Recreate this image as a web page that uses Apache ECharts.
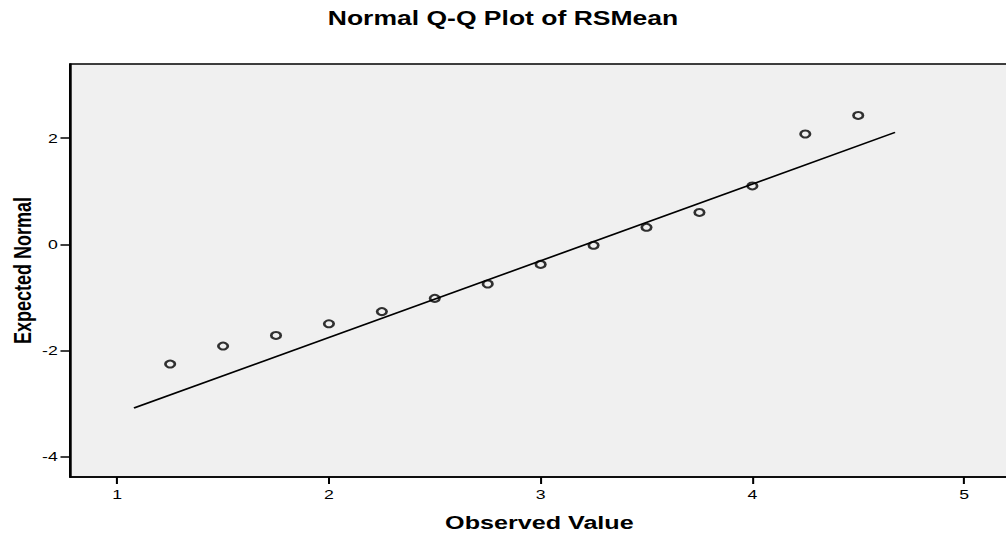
<!DOCTYPE html>
<html>
<head>
<meta charset="utf-8">
<script src="https://cdn.jsdelivr.net/npm/echarts@6/dist/echarts.min.js"></script>
<style>
html,body{margin:0;padding:0;background:#fff;overflow:hidden;}
#wrap{width:1006px;height:539px;overflow:hidden;}
#chart{width:740px;height:539px;transform:scaleX(1.3595);transform-origin:0 0;}
</style>
</head>
<body>
<div id="wrap"><div id="chart"></div></div>
<script>
// Observed values and expected normal quantiles
const observedValues = [1.25, 1.5, 1.75, 2, 2.25, 2.5, 2.75, 3, 3.25, 3.5, 3.75, 4, 4.25, 4.5];
const expectedNormal = [-2.26, -1.92, -1.72, -1.50, -1.27, -1.02, -0.75, -0.38, -0.02, 0.32, 0.60, 1.10, 2.08, 2.43];
// Reference line end points
const refLineX = [1.079, 4.674];
const refLineY = [-3.09, 2.11];
// Tick labels
const xTicks = [1, 2, 3, 4, 5];
const yTicks = [-4, -2, 0, 2];

const font = "'Liberation Sans', Arial, sans-serif";
const chart = echarts.init(document.getElementById('chart'), null, {renderer: 'svg'});
chart.setOption({
  animation: false,
  backgroundColor: '#ffffff',
  title: {
    text: 'Normal Q-Q Plot of RSMean',
    left: 'center',
    top: 3,
    textStyle: {fontFamily: font, fontSize: 19.5, fontWeight: 'bold', color: '#000'}
  },
  grid: {
    left: 51.5, right: -2, top: 64, bottom: 62,
    outerBoundsMode: 'none', containLabel: false,
    show: true, backgroundColor: '#f0f0f0', borderColor: '#000', borderWidth: 1.5
  },
  xAxis: {
    type: 'value', min: 0.777, max: 5.211,
    name: 'Observed Value', nameLocation: 'middle', nameGap: 36, nameMoveOverlap: false,
    nameTextStyle: {fontFamily: font, fontSize: 18.5, fontWeight: 'bold', color: '#000'},
    axisLine: {show: true, onZero: false, lineStyle: {color: '#000', width: 1.5}},
    axisTick: {show: true, length: 7, customValues: xTicks, lineStyle: {color: '#000', width: 1.5}},
    axisLabel: {customValues: xTicks, margin: 11, fontFamily: font, fontSize: 13, color: '#000'},
    splitLine: {show: false}
  },
  yAxis: {
    type: 'value', min: -4.39, max: 3.40,
    name: 'Expected Normal', nameLocation: 'middle', nameGap: 25.5, nameRotate: 90, nameMoveOverlap: false,
    nameTextStyle: {fontFamily: font, fontSize: 18, fontWeight: 'bold', color: '#000'},
    axisLine: {show: true, onZero: false, lineStyle: {color: '#000', width: 1.5}},
    axisTick: {show: true, length: 7, customValues: yTicks, lineStyle: {color: '#000', width: 1.5}},
    axisLabel: {customValues: yTicks, margin: 9, fontFamily: font, fontSize: 13, color: '#000'},
    splitLine: {show: false}
  },
  series: [
    {
      type: 'line',
      data: refLineX.map((x, i) => [x, refLineY[i]]),
      symbol: 'none',
      lineStyle: {color: '#000', width: 1.6},
      silent: true,
      z: 2
    },
    {
      type: 'scatter',
      data: observedValues.map((x, i) => [x, expectedNormal[i]]),
      symbol: 'circle',
      symbolSize: 7,
      itemStyle: {color: 'rgba(0,0,0,0)', borderColor: '#000', borderWidth: 2},
      z: 3
    }
  ]
});
</script>
</body>
</html>
